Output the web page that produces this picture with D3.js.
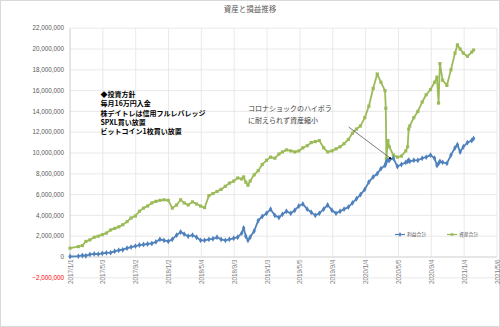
<!DOCTYPE html>
<html><head><meta charset="utf-8">
<script src="https://cdn.jsdelivr.net/npm/d3@7"></script>
<style>html,body{margin:0;padding:0;background:#fff;}svg{display:block;}</style>
</head><body>
<svg id="c" width="500" height="327"></svg>
<script>
const title = "資産と損益推移";
const tickLabels = ["2017/1/1","2017/5/3","2017/9/2","2018/1/2","2018/5/4","2018/9/3","2019/1/3","2019/5/5","2019/9/4","2020/1/4","2020/5/5","2020/9/4","2021/1/4","2021/5/6"];
const dates = [
"2017-01-01","2017-02-01","2017-02-16","2017-03-01","2017-03-16","2017-04-01","2017-04-16","2017-05-01","2017-05-16","2017-06-01","2017-06-16","2017-07-01","2017-07-16","2017-08-01","2017-08-16","2017-09-01","2017-09-16","2017-10-01","2017-10-16","2017-11-01","2017-11-16","2017-12-01","2017-12-16",
"2018-01-01","2018-01-16","2018-02-01","2018-02-16","2018-03-01","2018-03-16","2018-04-01","2018-04-16","2018-05-01","2018-05-16","2018-06-01","2018-06-16","2018-07-01","2018-07-16","2018-08-01","2018-08-16","2018-09-01","2018-09-16","2018-10-01","2018-10-08","2018-10-16","2018-10-24","2018-11-01","2018-11-16","2018-12-01","2018-12-16",
"2019-01-01","2019-01-16","2019-02-01","2019-02-16","2019-03-01","2019-03-16","2019-04-01","2019-04-16","2019-05-01","2019-05-16","2019-06-01","2019-06-16","2019-07-01","2019-07-16","2019-08-01","2019-08-16","2019-09-01","2019-09-16","2019-10-01","2019-10-16","2019-11-01","2019-11-16","2019-12-01","2019-12-16",
"2020-01-01","2020-01-16","2020-02-01","2020-02-16","2020-03-01","2020-03-16","2020-03-19","2020-03-21","2020-03-27","2020-04-01","2020-04-16","2020-05-01","2020-05-16","2020-06-01","2020-06-08","2020-06-12","2020-06-16","2020-07-01","2020-07-16","2020-08-01","2020-08-16","2020-09-01","2020-09-16","2020-09-25","2020-10-01","2020-10-06","2020-10-16","2020-11-01","2020-11-16","2020-12-01","2020-12-10","2020-12-20",
"2021-01-01","2021-01-16","2021-02-01","2021-02-08"];
// 資産合計 (million yen)
const assetTotal = [
0.85,1.0,1.1,1.5,1.65,1.9,2.0,2.15,2.3,2.6,2.75,2.9,3.1,3.4,3.75,3.95,4.4,4.7,4.9,5.2,5.35,5.45,5.5,
5.45,4.7,5.0,5.5,5.2,5.0,5.3,5.1,4.9,4.75,5.9,6.1,6.3,6.5,6.8,7.1,7.3,7.6,7.5,7.7,7.2,6.9,7.3,7.9,8.3,8.9,
9.3,9.6,9.5,9.9,10.1,10.3,10.2,10.1,10.2,10.5,10.7,11.0,11.1,11.2,10.5,10.1,10.2,10.4,10.6,10.9,11.3,11.9,12.3,12.6,
13.4,14.5,16.2,17.6,16.8,16.0,14.3,9.5,11.2,10.6,9.8,9.6,9.7,10.2,10.6,12.3,12.6,13.4,14.0,14.9,15.6,16.1,16.8,17.3,14.8,18.6,17.0,16.5,18.0,19.6,20.4,20.0,
19.6,19.3,19.7,19.9];
// 利益合計 (million yen)
const profitTotal = [
0.05,0.08,0.15,0.12,0.25,0.3,0.28,0.35,0.4,0.42,0.55,0.65,0.7,0.85,0.95,1.05,1.15,1.2,1.25,1.3,1.45,1.7,1.6,
1.5,1.7,2.1,2.4,2.2,2.0,2.1,1.9,1.6,1.6,1.7,1.75,1.9,1.7,1.6,1.7,1.8,1.9,2.3,2.8,2.0,1.6,1.9,2.5,3.5,3.9,
4.2,4.6,4.0,3.8,4.1,4.4,4.2,4.5,4.9,5.1,4.6,4.3,4.0,4.2,4.6,5.0,4.5,4.2,4.4,4.6,4.8,5.2,5.6,6.0,
6.5,7.2,7.7,8.0,8.5,8.8,9.0,9.2,9.3,9.3,9.5,8.7,8.9,9.1,9.2,9.3,9.2,9.3,9.3,9.5,9.6,9.8,9.5,8.8,9.0,9.2,9.1,9.0,9.8,10.5,10.8,10.1,
10.6,11.0,11.2,11.4];
const seriesNames = ["利益合計","資産合計"];
const noteLines = ["◆投資方針","毎月16万円入金","株デイトレは信用フルレバレッジ","SPXL買い放置","ビットコイン1枚買い放置"];
const coronaNote = ["コロナショックのハイボラ","に耐えられず資産縮小"];

const svg = d3.select("#c");
const W=500,H=327;
const parse = d3.timeParse("%Y-%m-%d");
const parseTick = d3.timeParse("%Y/%m/%d");
const tickDates = tickLabels.map(parseTick);
const x = d3.scaleTime().domain([tickDates[0], tickDates[tickDates.length-1]]).range([70,497]);
const y = d3.scaleLinear().domain([-2e6,22e6]).range([277.8,28.2]);
const latin = "'Liberation Sans', Arial, sans-serif";
const jp = "'Noto Sans CJK JP', sans-serif";

svg.append("rect").attr("x",0.5).attr("y",0.5).attr("width",W-1).attr("height",H-1).attr("fill","#fff").attr("stroke","#d9d9d9");

svg.append("text").attr("x",250).attr("y",12).attr("text-anchor","middle")
  .attr("font-family",jp).attr("font-size",7.5).attr("fill","#595959").text(title);

const yTicks = d3.range(-2e6, 22e6+1, 2e6);
svg.append("g").selectAll("line").data(yTicks).join("line")
  .attr("x1",70).attr("x2",497).attr("y1",d=>y(d)).attr("y2",d=>y(d))
  .attr("stroke",d=>d===0?"#bfbfbf":"#e3e3e3").attr("stroke-width",0.8);
svg.append("g").selectAll("line").data(tickDates).join("line")
  .attr("x1",d=>x(d)).attr("x2",d=>x(d)).attr("y1",y(22e6)).attr("y2",y(0))
  .attr("stroke",(d,i)=>i===0?"#bfbfbf":"#e3e3e3").attr("stroke-width",0.8);

const fmt = d3.format(",");
svg.append("g").selectAll("text").data(yTicks).join("text")
  .attr("x",64).attr("y",d=>y(d)+2.2).attr("text-anchor","end")
  .attr("font-family",latin).attr("font-size",6.3)
  .attr("fill",d=>d<0?"#ff0000":"#595959").text(d=>fmt(d));

const xAxis = d3.axisBottom(x).tickValues(tickDates).tickFormat((d,i)=>tickLabels[i]).tickSize(0);
const gx = svg.append("g").attr("transform",`translate(0,${y(0)})`).call(xAxis);
gx.select(".domain").remove();
gx.selectAll("text").attr("font-family",latin).attr("font-size",6.3).attr("fill","#7f7f7f")
  .attr("text-anchor","end").attr("transform","rotate(-90)").attr("x",-2.5).attr("y",0).attr("dy","0.32em");

const blue="#4F81BD", green="#9BBB59";
const mk = (vals)=>dates.map((d,i)=>({d:parse(d),v:vals[i]*1e6}));
const data = [mk(profitTotal), mk(assetTotal)];
const colors=[blue,green];
const symbols=[d3.symbolDiamond,d3.symbolSquare];
const line = d3.line().x(p=>x(p.d)).y(p=>y(p.v));
data.slice().reverse().forEach((s,ri)=>{
  const i = 1-ri;
  svg.append("path").datum(s).attr("d",line).attr("fill","none").attr("stroke",colors[i]).attr("stroke-width",1.8).attr("stroke-linejoin","round");
  svg.append("g").selectAll("path").data(s).join("path")
    .attr("d",d3.symbol().type(symbols[i]).size(10))
    .attr("transform",p=>`translate(${x(p.d)},${y(p.v)})`).attr("fill",colors[i]);
});

const lg = svg.append("g");
const lx=[395,447];
seriesNames.forEach((n,i)=>{
  lg.append("line").attr("x1",lx[i]).attr("x2",lx[i]+10).attr("y1",234.5).attr("y2",234.5).attr("stroke",colors[i]).attr("stroke-width",1.2);
  lg.append("path").attr("d",d3.symbol().type(symbols[i]).size(7)()).attr("transform",`translate(${lx[i]+5},234.5)`).attr("fill",colors[i]);
  lg.append("text").attr("x",lx[i]+12).attr("y",236.3).attr("font-family",jp).attr("font-size",4.8).attr("fill","#595959").text(n);
});

svg.append("g").selectAll("text").data(noteLines).join("text")
  .attr("x",100.5).attr("y",(d,i)=>96.8+i*9.4)
  .attr("font-family",jp).attr("font-weight","bold").attr("font-size",7).attr("fill","#000").text(d=>d);

svg.append("g").selectAll("text").data(coronaNote).join("text")
  .attr("x",248).attr("y",(d,i)=>111+i*11.5)
  .attr("font-family",jp).attr("font-size",7).attr("fill","#404040").text(d=>d);

const defs = svg.append("defs");
defs.append("marker").attr("id","ah").attr("viewBox","0 0 10 10").attr("refX",9).attr("refY",5)
  .attr("markerWidth",4).attr("markerHeight",4).attr("orient","auto")
  .append("path").attr("d","M0,0L10,5L0,10z").attr("fill","#000");
const a0=[parse("2019-11-02"),12.5e6], a1=[parse("2020-04-09"),9.42e6];
svg.append("line").attr("x1",x(a0[0])).attr("y1",y(a0[1])).attr("x2",x(a1[0])).attr("y2",y(a1[1]))
  .attr("stroke","#404040").attr("stroke-width",0.7).attr("marker-end","url(#ah)");
</script>
</body></html>
